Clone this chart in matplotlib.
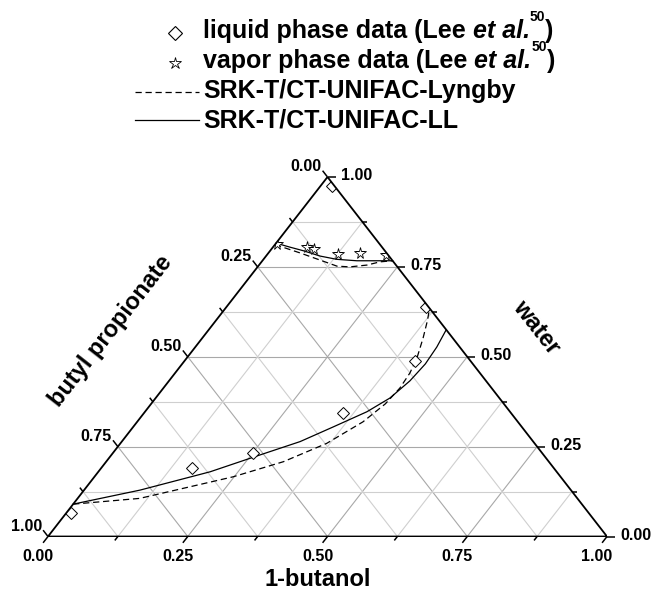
import matplotlib
matplotlib.use('Agg')
import matplotlib.pyplot as plt
import numpy as np
from matplotlib.patches import Polygon

plt.rcParams['font.family'] = ['Liberation Sans', 'DejaVu Sans']
plt.rcParams['font.weight'] = 'bold'

# mole fractions (1-butanol, water); butyl propionate = 1 - both
liq_butanol = [0.020, 0.357, 0.412, 0.357, 0.251, 0.163, 0.008]
liq_water   = [0.976, 0.639, 0.489, 0.343, 0.233, 0.190, 0.065]

vap_butanol = [0.002, 0.061, 0.077, 0.126, 0.165, 0.213]
vap_water   = [0.814, 0.804, 0.799, 0.786, 0.788, 0.783]

# SRK-T/CT-UNIFAC-LL (solid)
ll_top_butanol = [0.000, 0.030, 0.059, 0.097, 0.131, 0.169, 0.210, 0.233]
ll_top_water   = [0.816, 0.805, 0.795, 0.780, 0.771, 0.767, 0.767, 0.767]
ll_bot_butanol = [0.000, 0.100, 0.200, 0.266, 0.319, 0.358, 0.397, 0.419,
                  0.431, 0.435, 0.432, 0.425]
ll_bot_water   = [0.090, 0.129, 0.180, 0.227, 0.264, 0.305, 0.347, 0.385,
                  0.433, 0.480, 0.527, 0.574]

# SRK-T/CT-UNIFAC-Lyngby (dashed)
ly_top_butanol = [0.000, 0.056, 0.102, 0.141, 0.165, 0.193, 0.212, 0.233]
ly_top_water   = [0.812, 0.789, 0.769, 0.752, 0.750, 0.755, 0.764, 0.767]
ly_bot_butanol = [0.000, 0.111, 0.248, 0.317, 0.369, 0.404, 0.419, 0.423,
                  0.420, 0.411, 0.395, 0.378, 0.365]
ly_bot_water   = [0.090, 0.106, 0.166, 0.208, 0.259, 0.319, 0.369, 0.413,
                  0.455, 0.499, 0.552, 0.602, 0.635]

ticks_major = [0.0, 0.25, 0.5, 0.75, 1.0]
ticks_minor = [0.125, 0.375, 0.625, 0.875]
tick_labels = ['0.00', '0.25', '0.50', '0.75', '1.00']


def tern(b, w):
    b = np.asarray(b, dtype=float)
    w = np.asarray(w, dtype=float)
    return b + w / 2.0, w


W, H = 654, 593
x0, x1, ybot, ytop = 48, 607, 536.5, 177
sx, sy = x1 - x0, ybot - ytop

fig = plt.figure(figsize=(W / 100, H / 100), dpi=100)
ax = fig.add_axes([x0 / W, (H - ybot) / H, sx / W, sy / H])
ax.set_xlim(0, 1)
ax.set_ylim(0, 1)
ax.axis('off')

tri = Polygon([[0, 0], [1, 0], [0.5, 1]], closed=True, facecolor='none',
              edgecolor='black', lw=1.3, zorder=5, joinstyle='miter')
ax.add_patch(tri)

# grid
for t in ticks_major[1:-1] + ticks_minor:
    col = '#a8a8a8' if t in ticks_major else '#cfcfcf'
    ax.plot(*tern([0, 1 - t], [t, t]), color=col, lw=0.8, zorder=1)
    ax.plot(*tern([t, t], [0, 1 - t]), color=col, lw=0.8, zorder=1)
    ax.plot(*tern([1 - t, 0], [0, 1 - t]), color=col, lw=0.8, zorder=1)

# ticks: outward directions in pixels (y up)
d_left = np.array([-279.5, 359.5]) / np.hypot(279.5, 359.5)
d_bot = np.array([-279.5, -359.5]) / np.hypot(279.5, 359.5)
d_right = np.array([1.0, 0.0])


def tick(p, d, length):
    end = (p[0] + d[0] * length / sx, p[1] + d[1] * length / sy)
    ax.plot([p[0], end[0]], [p[1], end[1]], color='black', lw=1.1,
            clip_on=False, zorder=5, solid_capstyle='butt')
    return end


lab_kw = dict(textcoords='offset pixels', va='center', fontsize=11.5,
              fontweight='bold', annotation_clip=False)
for t, lab in zip(ticks_major, tick_labels):
    # bottom: 1-butanol
    e = tick(tern(t, 0), d_bot, 8)
    ax.annotate(lab, xy=e, xytext=(-5, -14), ha='center', **lab_kw)
    # right: water
    e = tick(tern(1 - t, t), d_right, 8)
    ax.annotate(lab, xy=e, xytext=(5, 1), ha='left', **lab_kw)
    # left: butyl propionate
    e = tick(tern(0, 1 - t), d_left, 8)
    ax.annotate(lab, xy=e, xytext=(-1, 4), ha='right', **lab_kw)

for t in ticks_minor:
    tick(tern(t, 0), d_bot, 5)
    tick(tern(1 - t, t), d_right, 5)
    tick(tern(0, 1 - t), d_left, 5)

# curves
ax.plot(*tern(ll_top_butanol, ll_top_water), color='black', lw=0.9, zorder=3)
ax.plot(*tern(ll_bot_butanol, ll_bot_water), color='black', lw=0.9, zorder=3)
ax.plot(*tern(ly_top_butanol, ly_top_water), color='black', lw=0.9,
        ls=(0, (5, 3)), zorder=3)
ax.plot(*tern(ly_bot_butanol, ly_bot_water), color='black', lw=0.9,
        ls=(0, (5, 3)), zorder=3)

# data
liq, = ax.plot(*tern(liq_butanol, liq_water), 'D', mfc='white', mec='black',
               ms=6.5, mew=0.7, zorder=4)
vap, = ax.plot(*tern(vap_butanol, vap_water), '*', mfc='white', mec='black',
               ms=8.5, mew=0.6, zorder=4)
liq.set_clip_path(tri)
vap.set_clip_path(tri)

# overlay in pixel coordinates for legend and axis titles
oax = fig.add_axes([0, 0, 1, 1])
oax.set_xlim(0, W)
oax.set_ylim(H, 0)
oax.axis('off')
oax.patch.set_alpha(0)

oax.text(318, 580, '1-butanol', ha='center', va='center', fontsize=17,
         fontweight='bold')
oax.text(536, 327, 'water', ha='center', va='center', fontsize=17,
         fontweight='bold', rotation=-52, rotation_mode='anchor')
oax.text(111, 331, 'butyl propionate', ha='center', va='center', fontsize=17,
         fontweight='bold', rotation=52, rotation_mode='anchor')

# legend
fs = 18
tx = 203
oax.plot([175], [33], 'D', mfc='white', mec='black', ms=7, mew=0.8)
oax.plot([175], [63], '*', mfc='white', mec='black', ms=9, mew=0.6)
oax.plot([135, 199], [92, 92], color='black', lw=0.9, ls=(0, (5, 3)))
oax.plot([135, 199], [120, 120], color='black', lw=0.9)

for base, first in [(38, 'liquid phase data (Lee'), (68, 'vapor phase data (Lee')]:
    t1 = oax.text(tx, base, first, fontsize=fs, fontweight='bold', va='baseline')
    t2 = oax.annotate('et al.', xy=(1, 0), xycoords=t1, xytext=(7, 0),
                      textcoords='offset pixels', va='bottom', ha='left',
                      fontsize=fs, fontweight='bold', fontstyle='italic')
    t3 = oax.annotate('50', xy=(1, 1), xycoords=t2, xytext=(0, 9),
                      textcoords='offset pixels', va='top', ha='left',
                      fontsize=10, fontweight='bold')
    oax.annotate(')', xy=(1, 0), xycoords=(t3, t1), xytext=(0, 0),
                 textcoords='offset pixels', va='bottom', ha='left',
                 fontsize=fs, fontweight='bold')

oax.text(tx, 98, 'SRK-T/CT-UNIFAC-Lyngby', fontsize=fs, fontweight='bold',
         va='baseline')
oax.text(tx, 127, 'SRK-T/CT-UNIFAC-LL', fontsize=fs, fontweight='bold',
         va='baseline')

fig.savefig('out.png', dpi=100)
